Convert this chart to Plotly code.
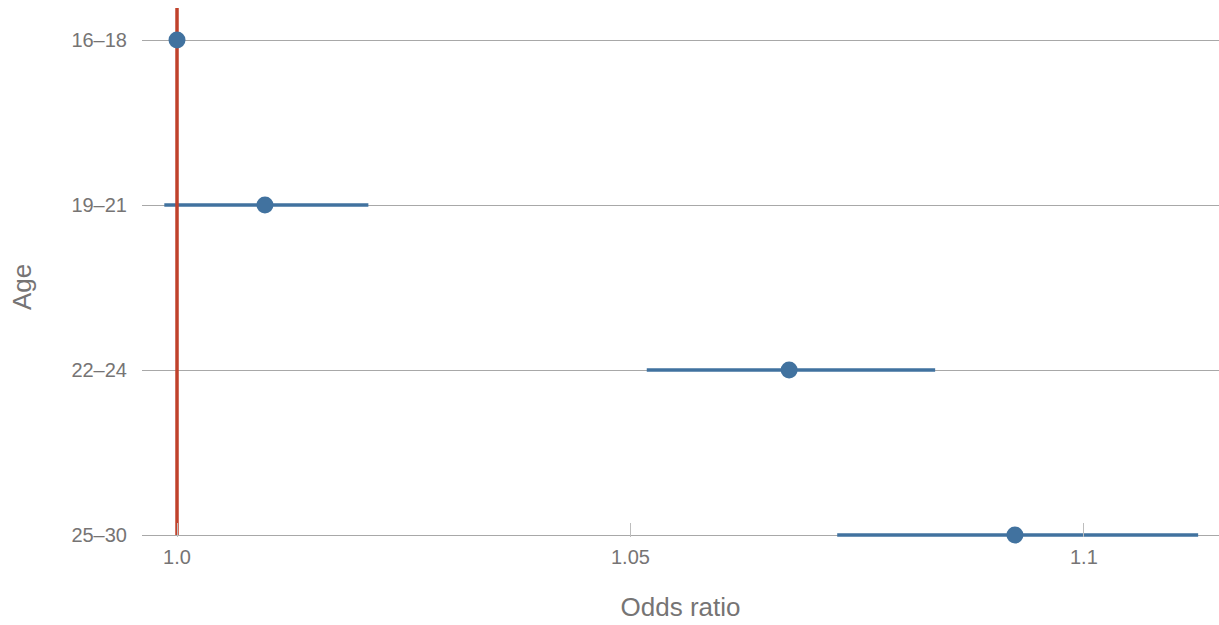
import plotly.graph_objects as go

# Age groups, odds ratios and 95% confidence bounds
age_groups = ["16–18", "19–21", "22–24", "25–30"]
odds_ratio = [1.0, 1.0097, 1.0675, 1.0924]
ci_lower = [1.0, 0.9986, 1.0518, 1.0728]
ci_upper = [1.0, 1.0211, 1.0836, 1.1126]

x_tick_vals = [1.0, 1.05, 1.1]
x_tick_text = ["1.0", "1.05", "1.1"]

reference_value = 1.0

blue = "#41729f"
red = "#c0412b"
text_grey = "#767474"

# numeric row positions: first group at the top
n = len(age_groups)
row_pos = [n - 1 - i for i in range(n)]

ci_x, ci_y = [], []
for lo, hi, y in zip(ci_lower, ci_upper, row_pos):
    ci_x += [lo, hi, None]
    ci_y += [y, y, None]

fig = go.Figure()

# confidence intervals
fig.add_trace(go.Scatter(
    x=ci_x, y=ci_y, mode="lines",
    line=dict(color=blue, width=3.5),
    hoverinfo="skip", showlegend=False,
))

# reference line at OR = 1
fig.add_trace(go.Scatter(
    x=[reference_value, reference_value], y=[0, 3.2], mode="lines",
    line=dict(color=red, width=3.5),
    hoverinfo="skip", showlegend=False,
))

# point estimates
fig.add_trace(go.Scatter(
    x=odds_ratio, y=row_pos, mode="markers",
    marker=dict(color=blue, size=17),
    cliponaxis=False,
    customdata=age_groups,
    hovertemplate="%{customdata}: %{x}<extra></extra>",
    showlegend=False,
))

fig.update_layout(
    width=1219, height=625,
    margin=dict(l=142, r=0, t=8, b=88),
    plot_bgcolor="white", paper_bgcolor="white",
    font=dict(family="Liberation Sans, Arial, sans-serif", color=text_grey, size=20),
    xaxis=dict(
        range=[0.99614, 1.1149],
        tickvals=x_tick_vals, ticktext=x_tick_text,
        ticks="inside", ticklen=14, tickcolor="#bdbdbd", tickwidth=1,
        ticklabelstandoff=6,
        showgrid=False, zeroline=False,
        showline=False,
        tickfont=dict(size=20, color=text_grey),
        title=dict(text="Odds ratio", font=dict(size=26, color=text_grey), standoff=30),
        automargin=False,
    ),
    yaxis=dict(
        range=[-0.012, 3.194],
        tickvals=row_pos, ticktext=age_groups,
        showgrid=True, gridcolor="#a8a8a8", gridwidth=1,
        zeroline=False, showline=False,
        ticks="", ticklabelstandoff=14,
        tickfont=dict(size=20, color=text_grey),
        automargin=False,
    ),
    annotations=[dict(
        text="Age", textangle=-90, showarrow=False,
        xref="paper", yref="paper", x=-0.1114, y=0.4726,
        xanchor="center", yanchor="middle",
        font=dict(size=26, color=text_grey),
    )],
)

fig.write_html("out.html")
